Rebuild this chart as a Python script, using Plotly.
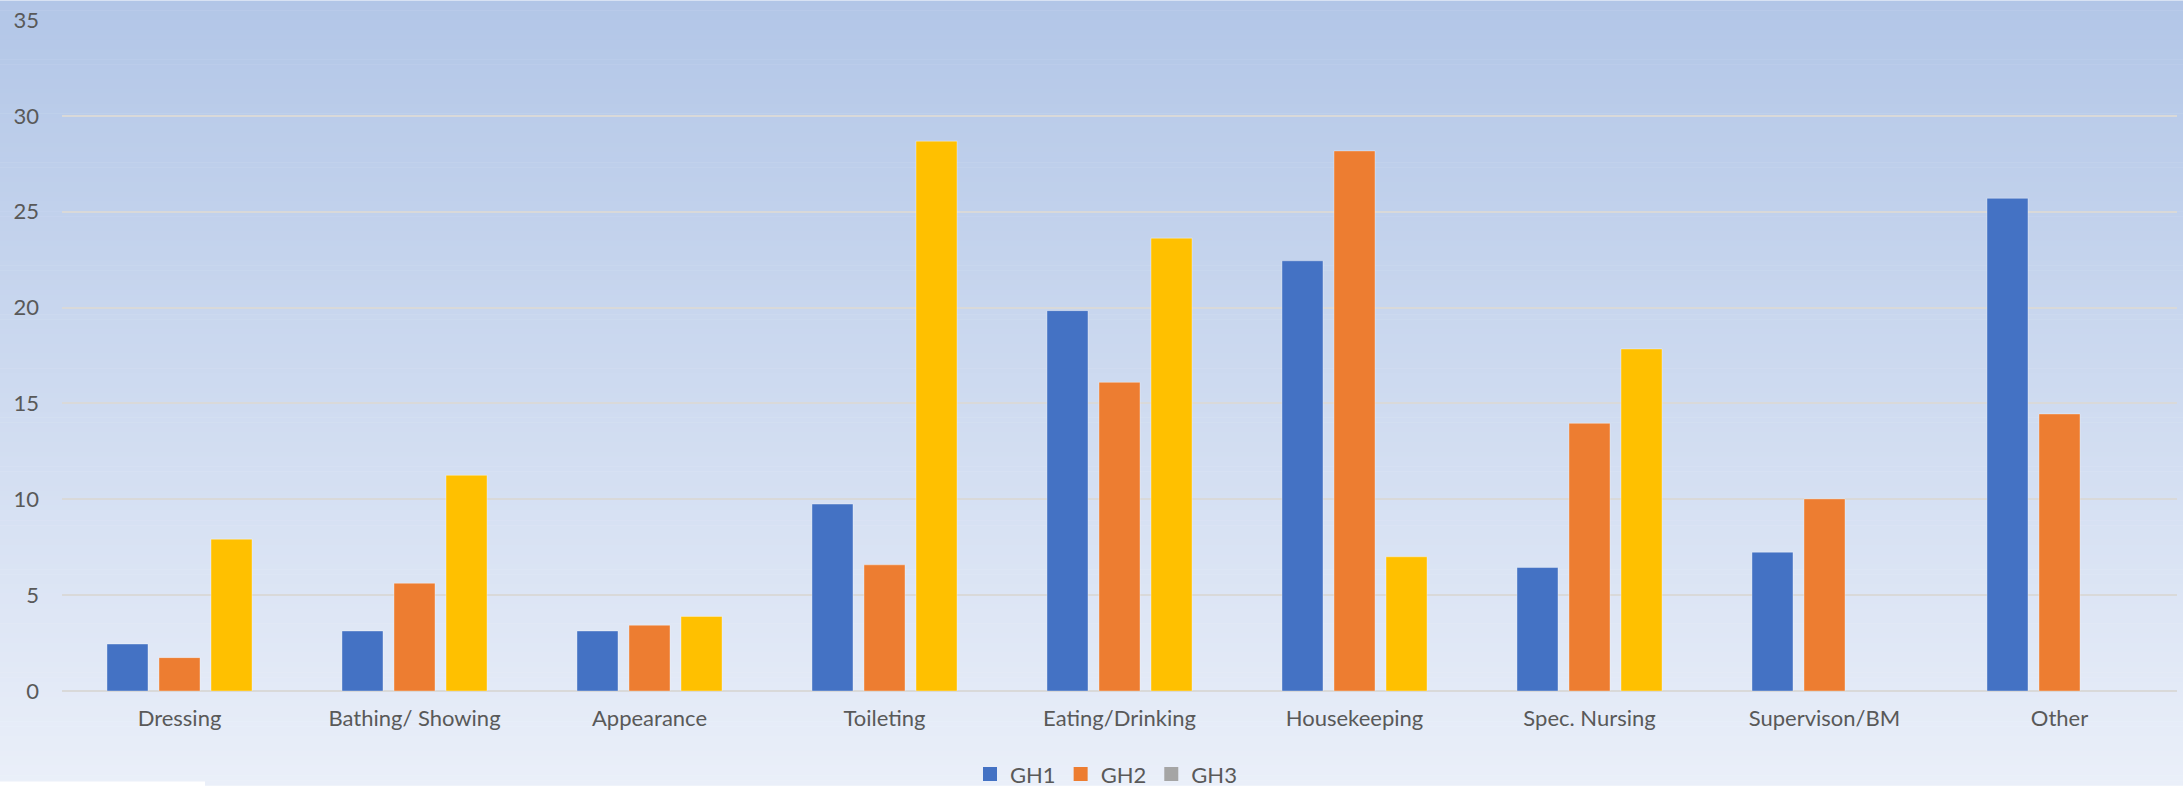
import plotly.graph_objects as go

# Care task categories
categories = ["Dressing", "Bathing/ Showing", "Appearance", "Toileting",
              "Eating/Drinking", "Housekeeping", "Spec. Nursing",
              "Supervison/BM", "Other"]

# Values per group home
gh1 = [2.45, 3.13, 3.13, 9.75, 19.84, 22.44, 6.44, 7.24, 25.7]
gh2 = [1.74, 5.62, 3.43, 6.58, 16.1, 28.17, 13.96, 10.02, 14.45]
gh3 = [7.92, 11.25, 3.89, 28.68, 23.62, 7.0, 17.84, None, None]

series_names = ["GH1", "GH2", "GH3"]
bar_colors = ["#4472C4", "#ED7D31", "#FFC000"]
legend_colors = ["#4472C4", "#ED7D31", "#A5A5A5"]

W, H = 2183, 801
M_L, M_R, M_T, M_B = 62, 6, 20, 96
plot_h = H - M_T - M_B
plot_w = W - M_L - M_R


def py(pixel_y):
    """Figure pixel row -> paper y coordinate."""
    return (H - M_B - pixel_y) / plot_h


def px(pixel_x):
    """Figure pixel column -> paper x coordinate."""
    return (pixel_x - M_L) / plot_w


fig = go.Figure()

for name, vals, col in zip(series_names, [gh1, gh2, gh3], bar_colors):
    fig.add_trace(go.Bar(
        x=categories, y=vals, name=name, showlegend=False,
        marker=dict(color=col, line=dict(color="rgba(255,255,255,0.35)", width=1)),
    ))

# Legend entries as square markers
for name, col in zip(series_names, legend_colors):
    fig.add_trace(go.Scatter(
        x=[None], y=[None], mode="markers", name=name,
        marker=dict(symbol="square", size=14, color=col),
    ))

# Vertical gradient background built from thin bands
shapes = []
n_bands = 160
top = (178, 198, 231)
bot = (234, 239, 249)
band = H / n_bands
for i in range(n_bands):
    t = (i + 0.5) / n_bands
    c = tuple(round(a + (b - a) * t) for a, b in zip(top, bot))
    shapes.append(dict(
        type="rect", xref="paper", yref="paper", layer="below",
        x0=px(0), x1=px(W), y0=py(i * band), y1=py((i + 1) * band + 0.6),
        fillcolor="rgb(%d,%d,%d)" % c, line=dict(width=0),
    ))
shapes.append(dict(
    type="rect", xref="paper", yref="paper", layer="above",
    x0=px(0), x1=px(205), y0=py(797.5), y1=py(H + 2),
    fillcolor="white", line=dict(width=0),
))

font_family = "Lato, Carlito, 'Open Sans', sans-serif"

fig.update_layout(
    width=W, height=H,
    margin=dict(l=M_L, r=M_R, t=M_T, b=M_B, pad=0),
    paper_bgcolor="rgba(0,0,0,0)",
    plot_bgcolor="rgba(0,0,0,0)",
    barmode="group",
    bargap=0.336,
    bargroupgap=0.2115,
    shapes=shapes,
    font=dict(family=font_family, size=22, color="#595959"),
    legend=dict(
        orientation="h", x=px(1106), xanchor="center",
        y=py(790), yanchor="middle",
        font=dict(size=22, color="#595959"),
        itemwidth=30, bgcolor="rgba(0,0,0,0)",
        tracegroupgap=0,
    ),
    xaxis=dict(
        showgrid=False, showline=False, zeroline=False,
        tickfont=dict(size=22, color="#595959"),
        ticks="", ticklabelstandoff=12,
    ),
    yaxis=dict(
        range=[0, 35], dtick=5, tick0=0,
        showgrid=True, gridcolor="#D9D9D9", gridwidth=2,
        zeroline=True, zerolinecolor="#D9D9D9", zerolinewidth=2,
        showline=False, ticks="",
        tickfont=dict(size=22, color="#595959"),
        ticklabelstandoff=22,
    ),
)

fig.write_html("out.html")
